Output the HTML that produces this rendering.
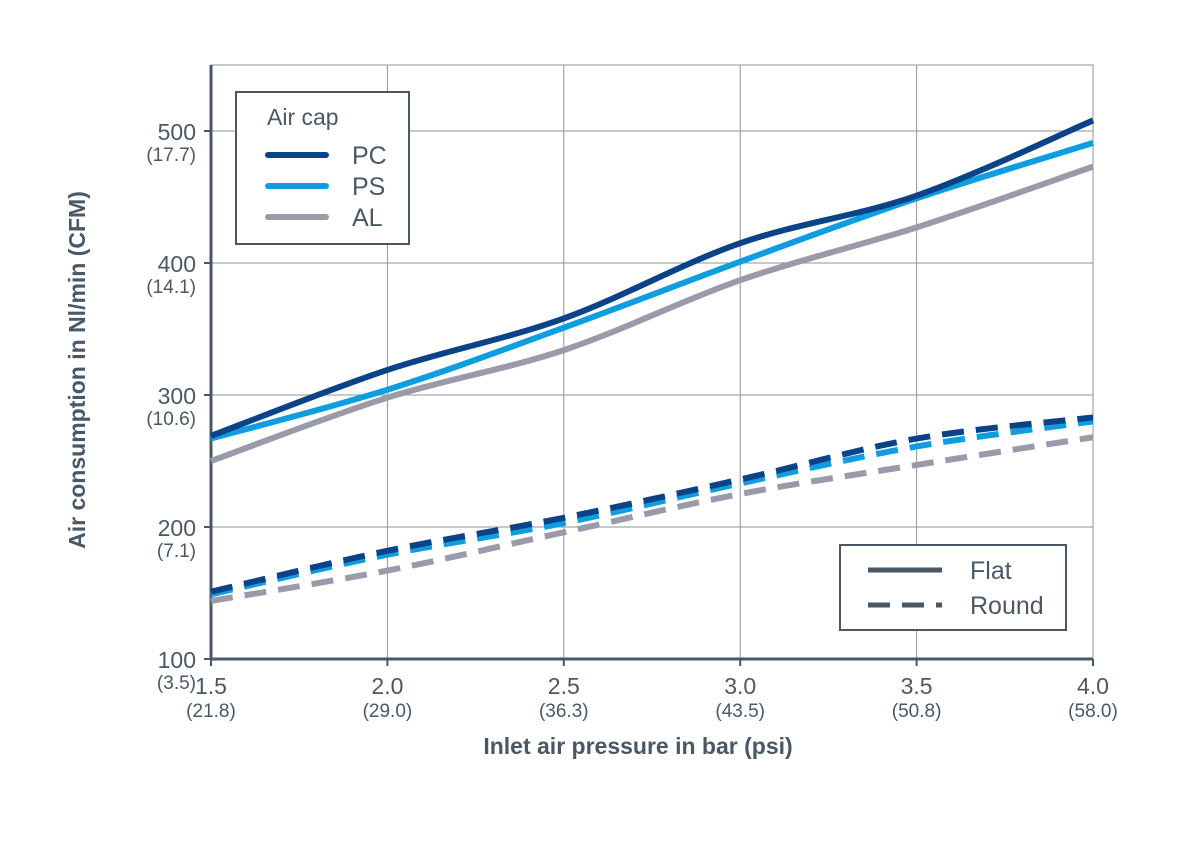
<!DOCTYPE html>
<html><head><meta charset="utf-8"><style>
body{margin:0;background:#fff;}
svg{font-family:"Liberation Sans",sans-serif;}
</style></head><body>
<svg id="c" width="1200" height="847" xmlns="http://www.w3.org/2000/svg"></svg>
<script>
const xVals=[1.5,2.0,2.5,3.0,3.5,4.0];
const xTickLabels=["1.5","2.0","2.5","3.0","3.5","4.0"];
const xTickPsi=["(21.8)","(29.0)","(36.3)","(43.5)","(50.8)","(58.0)"];
const yTicks=[100,200,300,400,500];
const yTickCfm=["(3.5)","(7.1)","(10.6)","(14.1)","(17.7)"];
const flatPC=[269,319,358,415,451,508];
const flatPS=[267,304,351,401,449,491];
const flatAL=[250,298,334,387,427,473];
const roundPC=[151,182,207,236,267,283];
const roundPS=[149,179,203,233,261,280];
const roundAL=[144,167,196,225,247,268];

const svg=document.getElementById('c');
const NS='http://www.w3.org/2000/svg';
const X=v=>211+(v-1.5)/2.5*882;
const Y=v=>659-(v-100)*1.32;
function mk(t,a,name){const e=document.createElementNS(NS,t);for(const k in a)e.setAttribute(k,a[k]);


svg.appendChild(e);return e;}
function txt(x,y,s,size,anchor,name,weight){const e=mk('text',{x:x,y:y,'font-size':size,fill:'#4a5866','text-anchor':anchor||'middle','font-weight':weight||'normal'},name);e.textContent=s;return e;}

// grid
mk('rect',{x:211,y:65,width:882,height:594,fill:'none',stroke:'#8f959b','stroke-width':1},'plot-frame');
xVals.forEach((v,i)=>{if(i>0)mk('line',{x1:X(v),x2:X(v),y1:65,y2:659,stroke:'#8f959b','stroke-width':1},'x-gridline');});
yTicks.forEach(v=>mk('line',{x1:211,x2:1093,y1:Y(v),y2:Y(v),stroke:'#8f959b','stroke-width':1},'y-gridline'));
// axes
mk('line',{x1:211,x2:211,y1:65,y2:660,stroke:'#4a5866','stroke-width':3},'y-axis');
mk('line',{x1:210,x2:1093,y1:659,y2:659,stroke:'#4a5866','stroke-width':3},'x-axis');
yTicks.forEach((v,i)=>{mk('line',{x1:204,x2:211,y1:Y(v),y2:Y(v),stroke:'#4a5866','stroke-width':2},'y-tick');
 txt(196,Y(v)+9,String(v),23,'end','y-tick-label');txt(196,Y(v)+30,yTickCfm[i],19,'end','y-tick-cfm');});
xVals.forEach((v,i)=>{mk('line',{x1:X(v),x2:X(v),y1:659,y2:666,stroke:'#4a5866','stroke-width':2},'x-tick');
 txt(X(v),694,xTickLabels[i],23,'middle','x-tick-label');txt(X(v),717,xTickPsi[i],19,'middle','x-tick-psi');});
txt(638,754,'Inlet air pressure in bar (psi)',23,'middle','x-axis-title','bold');
const yt=txt(0,0,'Air consumption in Nl/min (CFM)',23,'middle','y-axis-title','bold');
yt.setAttribute('transform','translate(85,370) rotate(-90)');

function path(vals){const p=vals.map((v,i)=>[X(xVals[i]),Y(v)]);let d='M'+p[0][0]+','+p[0][1];
for(let i=0;i<p.length-1;i++){const p0=p[i-1]||p[i],p1=p[i],p2=p[i+1],p3=p[i+2]||p2;
d+=` C${p1[0]+(p2[0]-p0[0])/6},${p1[1]+(p2[1]-p0[1])/6} ${p2[0]-(p3[0]-p1[0])/6},${p2[1]-(p3[1]-p1[1])/6} ${p2[0]},${p2[1]}`;}return d;}
const C={PC:'#0b4389',PS:'#0e9de0',AL:'#9a9aaa'};
[[roundAL,'AL'],[roundPS,'PS'],[roundPC,'PC']].forEach(([v,k])=>mk('path',{d:path(v),fill:'none',stroke:C[k],'stroke-width':6,'stroke-dasharray':'22,12'},'round-'+k.toLowerCase()+'-line'));
[[flatAL,'AL'],[flatPS,'PS'],[flatPC,'PC']].forEach(([v,k])=>mk('path',{d:path(v),fill:'none',stroke:C[k],'stroke-width':6},'flat-'+k.toLowerCase()+'-line'));

// legend 1
mk('rect',{x:236,y:92,width:173,height:152,fill:'#fff',stroke:'#4a5866','stroke-width':2},'air-cap-legend');
txt(267,125,'Air cap',23,'start','air-cap-legend-title');
['PC','PS','AL'].forEach((k,i)=>{const y=155+i*31;
 mk('line',{x1:268,x2:326,y1:y,y2:y,stroke:C[k],'stroke-width':6,'stroke-linecap':'round'},'legend-swatch-'+k.toLowerCase());
 txt(352,y+9,k,25,'start','legend-label-'+k.toLowerCase());});
// legend 2
mk('rect',{x:840,y:545,width:226,height:85,fill:'#fff',stroke:'#4a5866','stroke-width':2},'cap-type-legend');
mk('line',{x1:868,x2:942,y1:570,y2:570,stroke:'#4a5866','stroke-width':5},'legend-swatch-flat');
txt(970,579,'Flat',25,'start','legend-label-flat');
mk('line',{x1:868,x2:942,y1:605,y2:605,stroke:'#4a5866','stroke-width':5,'stroke-dasharray':'22,12'},'legend-swatch-round');
txt(970,614,'Round',25,'start','legend-label-round');
</script>
</body></html>
